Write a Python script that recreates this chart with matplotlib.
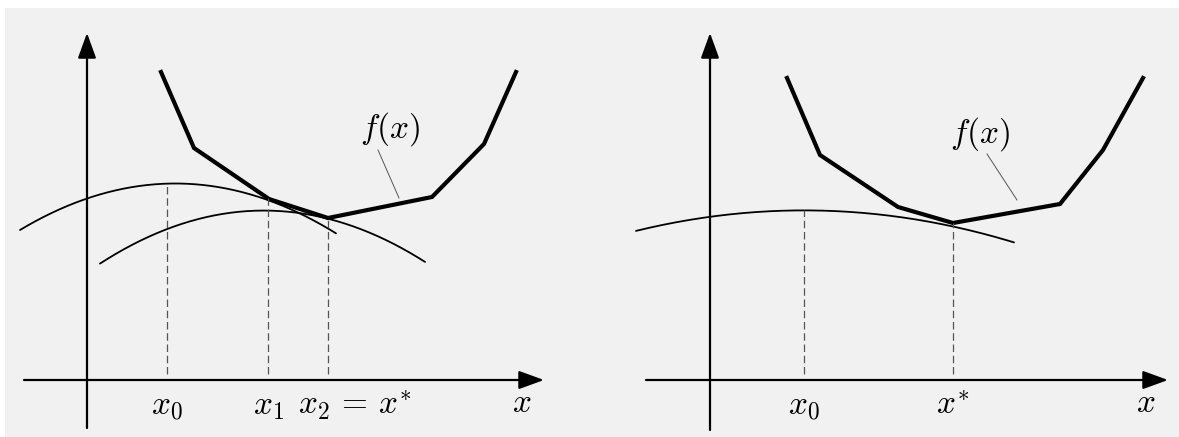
import numpy as np
import matplotlib.pyplot as plt
from matplotlib.patches import Rectangle

plt.rcParams['mathtext.fontset'] = 'cm'

# left panel: piecewise-linear f and two concave models
f_left_x = [74, 107, 182, 241, 345, 397, 429]
f_left_y = [308, 232, 181, 162, 183, 236, 308]
model0_x = [-67, 0, 79, 182, 249]
model0_y = [150, 182, 195, 181, 146]
model1_x = [13, 80, 169, 241, 338]
model1_y = [116, 152, 168, 162, 118]
iter_left = [80, 181, 241]
iter_left_labels = [r'$x_0$', r'$x_1$', r'$x_2\,=\,x^{*}$']
label_left_x = [80, 181, 268]

# right panel: same f, single flat model
f_right_x = [77, 110, 188, 243, 350, 393, 433]
f_right_y = [302, 225, 173, 157, 176, 230, 302]
model_r_x = [-74, 0, 94, 243, 304]
model_r_y = [150, 162, 169, 156, 136]
iter_right = [94, 243]
iter_right_labels = [r'$x_0$', r'$x^{*}$']

W, H = 1179, 437
fig = plt.figure(figsize=(W / 100, H / 100), dpi=100, facecolor='white')
fig.patches.append(Rectangle((5 / W, 0), 1 - 5 / W, (H - 8) / H,
                             transform=fig.transFigure, facecolor='#f1f1f1',
                             edgecolor='none', zorder=-10))

ax_l = fig.add_axes([0, 0, 590 / W, 1])
ax_r = fig.add_axes([590 / W, 0, 589 / W, 1])
ax_l.set_xlim(-87, 503)
ax_r.set_xlim(-120, 469)
for ax in (ax_l, ax_r):
    ax.set_ylim(-57, 380)
    ax.axis('off')
    ax.patch.set_alpha(0)

arrow = dict(arrowstyle='-|>,head_length=0.55,head_width=0.2',
             mutation_scale=28, lw=1.6, color='black', shrinkA=0, shrinkB=0)


def axes_arrows(ax, x0, x1, y0, y1):
    ax.annotate('', xy=(x1, 0), xytext=(x0, 0), arrowprops=arrow)
    ax.annotate('', xy=(0, y1), xytext=(0, y0), arrowprops=arrow)


def quad(xs, ys):
    c = np.polyfit(xs, ys, 2)
    t = np.linspace(xs[0], xs[-1], 200)
    return t, np.polyval(c, t), c


def panel(ax, fx, fy, models, iters, labels, lab_x, xa, ya, flab, lead):
    axes_arrows(ax, xa[0], xa[1], ya[0], ya[1])
    coefs = []
    for mx, my in models:
        t, v, c = quad(mx, my)
        coefs.append(c)
        ax.plot(t, v, color='black', lw=1.3, solid_capstyle='round')
    ax.plot(fx, fy, color='black', lw=3.0, solid_joinstyle='miter')
    # dashed drop lines from each iterate to the axis
    for k, xi in enumerate(iters):
        top = np.polyval(coefs[0], xi) if k == 0 else np.interp(xi, fx, fy)
        ax.plot([xi, xi], [6, top], color='#555555', lw=0.9,
                linestyle=(0, (6, 3)))
    for xi, s in zip(lab_x, labels):
        ax.text(xi, -25, s, fontsize=24, ha='center', va='center')
    ax.text(xa[1] - 22, -23, r'$x$', fontsize=24, ha='center', va='center')
    ax.text(flab[0], flab[1], r'$f(x)$', fontsize=24, ha='center', va='center')
    ax.plot(lead[0], lead[1], color='#555555', lw=0.7)


panel(ax_l, f_left_x, f_left_y, [(model0_x, model0_y), (model1_x, model1_y)],
      iter_left, iter_left_labels, label_left_x, (-63, 457), (-48, 347),
      (303, 251), ([291, 312], [230, 182]))
panel(ax_r, f_right_x, f_right_y, [(model_r_x, model_r_y)],
      iter_right, iter_right_labels, iter_right, (-64, 458), (-50, 347),
      (270, 246), ([277, 307], [226, 180]))

fig.savefig('out.png', dpi=100, facecolor=fig.get_facecolor())
